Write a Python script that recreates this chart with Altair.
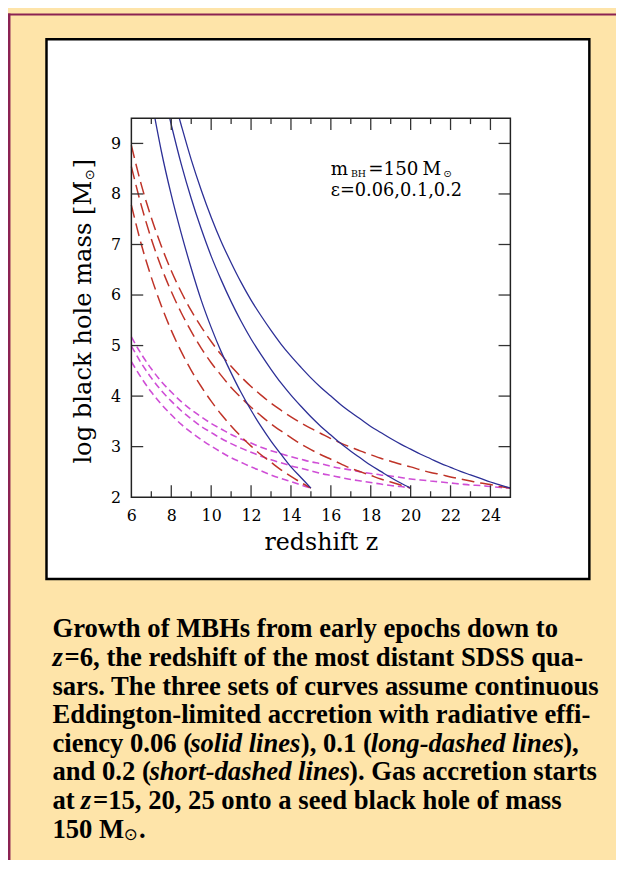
import altair as alt
import pandas as pd

# ---------------- data ----------------
# redshift grids
Z_15 = [6, 6.5, 7, 7.5, 8, 8.5, 9, 9.5, 10, 10.5, 11, 11.5, 12, 12.5, 13, 13.5, 14, 14.5, 15]
Z_20 = Z_15 + [15.5, 16, 16.5, 17, 17.5, 18, 18.5, 19, 19.5, 20]
Z_25 = Z_20 + [20.5, 21, 21.5, 22, 22.5, 23, 23.5, 24, 24.5, 25]

# epsilon = 0.06 (solid) ; curves leave the top of the frame
SOLID15_Z = [7.18] + Z_15[3:]
SOLID15_M = [9.5, 8.85, 7.98, 7.22, 6.53, 5.9, 5.36, 4.88, 4.46, 4.07, 3.72, 3.4, 3.11, 2.85, 2.6, 2.39, 2.18]
SOLID20_Z = [7.92] + Z_20[4:]
SOLID20_M = [9.5, 9.37, 8.59, 7.91, 7.31, 6.77, 6.30, 5.87, 5.48, 5.13, 4.82, 4.53, 4.26, 4.02, 3.80,
             3.59, 3.40, 3.23, 3.06, 2.91, 2.77, 2.63, 2.51, 2.39, 2.28, 2.18]
SOLID25_Z = [8.40] + Z_25[5:]
SOLID25_M = [9.5, 9.36, 8.68, 8.08, 7.54, 7.06, 6.64, 6.25, 5.90, 5.59, 5.30, 5.03, 4.79, 4.57, 4.36,
             4.17, 4.00, 3.83, 3.68, 3.54, 3.40, 3.28, 3.16, 3.05, 2.95, 2.85, 2.76, 2.67, 2.59, 2.51,
             2.44, 2.37, 2.30, 2.24, 2.18]

# epsilon = 0.1 (long dashed)
LONG15_M = [7.78, 7.00, 6.35, 5.79, 5.30, 4.88, 4.51, 4.19, 3.90, 3.64, 3.41, 3.20, 3.01, 2.84, 2.69,
            2.54, 2.41, 2.29, 2.18]
LONG20_M = [8.54, 7.77, 7.11, 6.55, 6.07, 5.65, 5.28, 4.95, 4.66, 4.41, 4.17, 3.97, 3.78, 3.61, 3.45,
            3.31, 3.18, 3.05, 2.94, 2.84, 2.75, 2.66, 2.57, 2.50, 2.43, 2.36, 2.30, 2.24, 2.18]
LONG25_M = [8.96, 8.18, 7.53, 6.97, 6.48, 6.06, 5.69, 5.37, 5.08, 4.82, 4.59, 4.38, 4.19, 4.02, 3.86,
            3.72, 3.59, 3.47, 3.36, 3.26, 3.16, 3.07, 2.99, 2.91, 2.84, 2.77, 2.71, 2.65, 2.60, 2.54,
            2.49, 2.45, 2.40, 2.36, 2.32, 2.28, 2.25, 2.21, 2.18]

# epsilon = 0.2 (short dashed)
SHORT15_M = [4.68, 4.36, 4.08, 3.84, 3.63, 3.44, 3.28, 3.14, 3.01, 2.89, 2.78, 2.69, 2.60, 2.52, 2.44,
             2.37, 2.31, 2.24, 2.18]
SHORT20_M = [4.99, 4.65, 4.36, 4.11, 3.90, 3.71, 3.55, 3.40, 3.28, 3.16, 3.06, 2.97, 2.89, 2.81, 2.74,
             2.68, 2.62, 2.57, 2.52, 2.47, 2.43, 2.39, 2.35, 2.32, 2.29, 2.26, 2.23, 2.21, 2.18]
SHORT25_M = [5.17, 4.83, 4.54, 4.29, 4.08, 3.89, 3.73, 3.59, 3.46, 3.35, 3.24, 3.15, 3.07, 2.99, 2.92,
             2.86, 2.80, 2.75, 2.70, 2.66, 2.61, 2.57, 2.54, 2.50, 2.47, 2.44, 2.42, 2.39, 2.36, 2.34,
             2.32, 2.30, 2.28, 2.26, 2.24, 2.23, 2.21, 2.19, 2.18]

X_LABELS = [6, 8, 10, 12, 14, 16, 18, 20, 22, 24]
X_MINOR = [7, 9, 11, 13, 15, 17, 19, 21, 23]
X_MAJOR_TICKS = [8, 10, 12, 14, 16, 18, 20, 22, 24]
Y_LABELS = [2, 3, 4, 5, 6, 7, 8, 9]
Y_TICKS = [3, 4, 5, 6, 7, 8, 9]

Y_TITLE = ["log black hole mass [M", "\u2299", "]"]

CAPTION = [
    [("Growth of MBHs from early epochs down to", "b")],
    [("z", "i"), ("=6, the redshift of the most distant SDSS qua-", "b")],
    [("sars. The three sets of curves assume continuous", "b")],
    [("Eddington-limited accretion with radiative effi-", "b")],
    [("ciency 0.06 (", "b"), ("solid lines", "i"), ("), 0.1 (", "b"), ("long-dashed lines", "i"), ("),", "b")],
    [("and 0.2 (", "b"), ("short-dashed lines", "i"), ("). Gas accretion starts", "b")],
    [("at ", "b"), ("z", "i"), ("=15, 20, 25 onto a seed black hole of mass", "b")],
    [("150 M", "b"), ("\u2299", "sun"), (".", "b")],
]

# ---------------- styles ----------------
BEIGE = "#FEE4A9"
MAROON = "#8B2252"
BLUE = "#2C2F96"
RED = "#BF3328"
MAGENTA = "#CF4ED6"
TICK = "#333333"
SERIF = "DejaVu Serif"
CAP_FONT = "Liberation Serif"
CAP_SIZE = 27
W, H = 384, 384

curves = [
    ("s15", "solid", SOLID15_Z, SOLID15_M), ("s20", "solid", SOLID20_Z, SOLID20_M),
    ("s25", "solid", SOLID25_Z, SOLID25_M),
    ("l15", "long", Z_15, LONG15_M), ("l20", "long", Z_20, LONG20_M), ("l25", "long", Z_25, LONG25_M),
    ("h15", "short", Z_15, SHORT15_M), ("h20", "short", Z_20, SHORT20_M), ("h25", "short", Z_25, SHORT25_M),
]
rows = []
for name, style, zs, ms in curves:
    for z, m in zip(zs, ms):
        rows.append({"z": z, "logM": m, "curve": name, "style": style})
df = pd.DataFrame(rows)

xs = alt.Scale(domain=[6, 25], nice=False, zero=False)
ys = alt.Scale(domain=[2, 9.5], nice=False, zero=False)
xaxis = alt.Axis(values=X_LABELS, title="redshift z", grid=False, ticks=False, domain=False, zindex=2,
                 labelFont=SERIF, labelFontSize=16, labelColor="black", labelPadding=11,
                 labelFlush=False, labelOverlap=False, format="d",
                 titleFont=SERIF, titleFontSize=24, titleFontWeight="normal", titleColor="black",
                 titleX=W / 2, titleY=53, titleBaseline="alphabetic", titleAlign="center")
yaxis = alt.Axis(values=Y_LABELS, title="", grid=False, ticks=False,
                 domain=False, zindex=2, labelFont=SERIF, labelFontSize=16, labelColor="black",
                 labelPadding=11, labelFlush=False, labelOverlap=False, format="d")
X = alt.X("z:Q", scale=xs, axis=xaxis)
Y = alt.Y("logM:Q", scale=ys, axis=yaxis)

one = pd.DataFrame({"k": [0]})


def box(x, x2, y, y2, **kw):
    return alt.Chart(one).mark_rect(**kw).encode(
        x=alt.value(x), x2=alt.value(x2), y=alt.value(y), y2=alt.value(y2))


def label(txt, x, y, **kw):
    opts = dict(align="left", baseline="alphabetic", color="black")
    opts.update(kw)
    return alt.Chart(one).mark_text(text=txt, **opts).encode(x=alt.value(x), y=alt.value(y))


layers = []
# page decoration (plot origin is at page (133,114); chart origin at page (8,8))
layers.append(box(-125, -122.5, -106, 760, fill=MAROON))
layers.append(box(-125, 500, -106, -104, fill=MAROON))
layers.append(box(-86, 464, -80, 467, fill="white", stroke="black", strokeWidth=2.5))

# curves
base = alt.Chart(df)
layers.append(base.transform_filter(alt.datum.style == "short").mark_line(
    color=MAGENTA, strokeWidth=1.6, strokeDash=[7, 4], interpolate="monotone").encode(
    x=X, y=Y, detail="curve:N"))
layers.append(base.transform_filter(alt.datum.style == "long").mark_line(
    color=RED, strokeWidth=1.5, strokeDash=[13, 6], interpolate="monotone").encode(
    x=X, y=Y, detail="curve:N"))
layers.append(base.transform_filter(alt.datum.style == "solid").mark_line(
    color=BLUE, strokeWidth=1.3, interpolate="monotone").encode(
    x=X, y=Y, detail="curve:N"))

# inward ticks on all four sides
xmaj = pd.DataFrame({"z": X_MAJOR_TICKS})
xmin = pd.DataFrame({"z": X_MINOR})
ytk = pd.DataFrame({"logM": Y_TICKS})
rule = dict(color=TICK, strokeWidth=1.3)
layers.append(alt.Chart(xmaj).mark_rule(**rule).encode(x=X, y=alt.value(H), y2=alt.value(H - 12)))
layers.append(alt.Chart(xmin).mark_rule(**rule).encode(x=X, y=alt.value(H), y2=alt.value(H - 6)))
layers.append(alt.Chart(xmaj).mark_rule(**rule).encode(x=X, y=alt.value(0), y2=alt.value(12)))
layers.append(alt.Chart(xmin).mark_rule(**rule).encode(x=X, y=alt.value(0), y2=alt.value(6)))
layers.append(alt.Chart(ytk).mark_rule(**rule).encode(y=Y, x=alt.value(0), x2=alt.value(12)))
layers.append(alt.Chart(ytk).mark_rule(**rule).encode(y=Y, x=alt.value(W), x2=alt.value(W - 12)))

# frame
layers.append(box(0, W, 0, H, fill="transparent", stroke="#222222", strokeWidth=1.5))

# y-axis title, written bottom-to-top with a subscript sun symbol
YT_SIZE = 24.5
yt0 = 350
yt_w1 = 11.7 * YT_SIZE
layers.append(label(Y_TITLE[0], -41, yt0, font=SERIF, fontSize=YT_SIZE, angle=270))
layers.append(label(Y_TITLE[1], -37.5, yt0 - yt_w1 - 0.5, font="DejaVu Sans", fontSize=13, angle=270))
layers.append(label(Y_TITLE[2], -41, yt0 - yt_w1 - 12.5, font=SERIF, fontSize=YT_SIZE, angle=270))

# in-plot annotation
AN = 18.5
layers.append(label("m", 202, 57.5, font=SERIF, fontSize=AN))
layers.append(label("BH", 222.5, 59.5, font=SERIF, fontSize=9.5))
layers.append(label("=150", 240, 57.5, font=SERIF, fontSize=AN))
layers.append(label("M", 295, 57.5, font=SERIF, fontSize=AN))
layers.append(label("\u2299", 316, 59.5, font="DejaVu Sans", fontSize=10))
layers.append(label("\u03b5=0.06,0.1,0.2", 202, 78.5, font=SERIF, fontSize=18))

# caption (Times-compatible metrics to place the italic runs)
TB = {" ": 250, "a": 500, "b": 556, "c": 444, "d": 556, "e": 444, "f": 333, "g": 500, "h": 556,
      "i": 278, "j": 333, "k": 556, "l": 278, "m": 833, "n": 556, "o": 500, "p": 556, "q": 556,
      "r": 444, "s": 389, "t": 333, "u": 556, "v": 500, "w": 722, "x": 500, "y": 500, "z": 444,
      ".": 250, ",": 250, "-": 333, "(": 333, ")": 333, "=": 570, "G": 778, "M": 944, "B": 667,
      "H": 778, "T": 667, "E": 667, "S": 556, "D": 722}
TBI = {" ": 250, "s": 389, "o": 500, "l": 278, "i": 278, "d": 500, "n": 556, "e": 444, "g": 500,
       "a": 500, "h": 556, "r": 389, "t": 278, "z": 389, "-": 333}


def tw(s, table):
    return sum(table.get(ch, 500) for ch in s) * CAP_SIZE / 1000.0 * 0.985


cap_x0 = 53 - 133
for i, line in enumerate(CAPTION):
    yb = 526 + 29 * i
    x = cap_x0
    for txt, kind in line:
        if kind == "sun":
            layers.append(label(txt, x + 0.5, yb + 2, font="DejaVu Sans", fontSize=17))
            x += 16
        elif kind == "i":
            layers.append(label(txt, x, yb, font=CAP_FONT, fontSize=CAP_SIZE, fontWeight="bold",
                                fontStyle="italic"))
            x += tw(txt, TBI) + 2
        else:
            layers.append(label(txt, x, yb, font=CAP_FONT, fontSize=CAP_SIZE, fontWeight="bold"))
            x += tw(txt, TB)

chart = alt.layer(*layers).properties(
    width=W, height=H,
    padding={"left": 125, "top": 106, "right": 107, "bottom": 362},
    autosize=alt.AutoSizeParams(type="none"),
).configure(background=BEIGE).configure_view(stroke="transparent")

chart.save("out.html", embed_options={"renderer": "svg", "actions": False})
